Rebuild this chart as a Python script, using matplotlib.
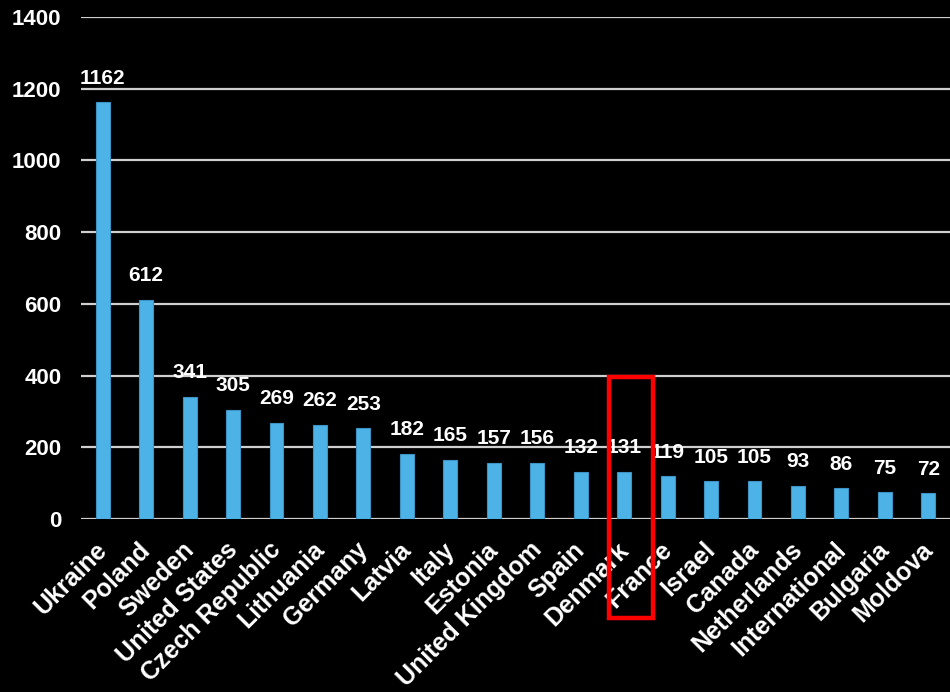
import matplotlib
matplotlib.use("Agg")
import matplotlib.pyplot as plt
from matplotlib.patches import Rectangle
from matplotlib.transforms import ScaledTranslation

countries = ["Ukraine", "Poland", "Sweden", "United States", "Czech Republic",
             "Lithuania", "Germany", "Latvia", "Italy", "Estonia",
             "United Kingdom", "Spain", "Denmark", "France", "Israel",
             "Canada", "Netherlands", "International", "Bulgaria", "Moldova"]
values = [1162, 612, 341, 305, 269, 262, 253, 182, 165, 157,
          156, 132, 131, 119, 105, 105, 93, 86, 75, 72]
y_ticks = [0, 200, 400, 600, 800, 1000, 1200, 1400]

plt.rcParams["font.family"] = ["Liberation Sans", "DejaVu Sans"]
plt.rcParams["font.weight"] = "bold"

fig = plt.figure(figsize=(9.5, 6.92), dpi=100, facecolor="black")
ax = fig.add_axes([81 / 950, 1 - 519 / 692, 1 - 81 / 950, (519 - 17) / 692])
ax.set_facecolor("black")

x = list(range(len(countries)))
bars = ax.bar(x, values, width=0.32, color="#4db3e6", edgecolor="#3d94c4",
              linewidth=0.8, zorder=3)

for xi, v in zip(x, values):
    ax.annotate(str(v), (xi, v), xytext=(0, 10.5), textcoords="offset points",
                ha="center", va="bottom", color="white", fontsize=15,
                fontweight="bold")

ax.set_xlim(-0.5, len(countries) - 0.5)
ax.set_ylim(0, 1400)
ax.set_yticks(y_ticks)
ax.set_yticklabels([str(t) for t in y_ticks], color="white", fontsize=16,
                   fontweight="bold")
ax.yaxis.grid(True, color="#cfcfcf", linewidth=1.6, zorder=0)
ax.set_axisbelow(True)
ax.tick_params(axis="y", length=0, pad=14)
ax.tick_params(axis="x", length=0, pad=12)
ax.set_xticks(x)
ax.set_xticklabels(countries, rotation=45, ha="right", rotation_mode="anchor",
                   color="white", fontsize=18, fontweight="bold")
shift = ScaledTranslation(-8 / 100, -2 / 100, fig.dpi_scale_trans)
for lbl in ax.get_xticklabels():
    lbl.set_transform(lbl.get_transform() + shift)
for s in ax.spines.values():
    s.set_visible(False)

# highlight box around Denmark / France
box = Rectangle((609 / 950, 1 - 618 / 692), 44 / 950, 241 / 692,
                transform=fig.transFigure, fill=False, edgecolor="#ff0000",
                linewidth=3.2, zorder=10)
fig.patches.append(box)

fig.savefig("out.png", dpi=100, facecolor="black")
